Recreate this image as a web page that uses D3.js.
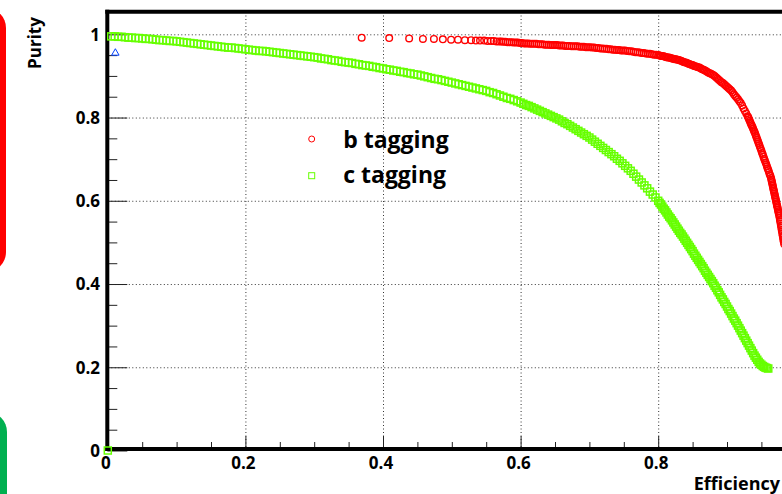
<!DOCTYPE html>
<meta charset="utf-8">
<head>
  <title>Efficiency vs Purity</title>
</head>
<style>
    body {
        margin: 0;
        background-color: #fff;
    }

    #chart {
        display: block;
        font-family: "Open Sans", sans-serif;
    }

    .grid line {
        stroke: #333;
        stroke-width: 1px;
        stroke-dasharray: 1 2.5;
    }

    .ticks line {
        stroke: #222;
        stroke-width: 1px;
    }

    .ticks path, .grid path, .labels path {
        display: none;
    }

    .labels text {
        font-family: "Open Sans", sans-serif;
        font-size: 17px;
        font-weight: 700;
        fill: #000;
    }
</style>
<body>
    <svg id="chart" width="782" height="494"></svg>

    <script src="https://d3js.org/d3.v7.min.js"></script>

    <script>
        var xTicks = [0, 0.2, 0.4, 0.6, 0.8, 1];
        var yTicks = [0, 0.2, 0.4, 0.6, 0.8, 1];
        var xTickLabels = ["0", "0.2", "0.4", "0.6", "0.8"];
        var yTickLabels = ["0", "0.2", "0.4", "0.6", "0.8", "1"];
        var minorTicks = [0.05, 0.1, 0.15, 0.25, 0.3, 0.35, 0.45, 0.5, 0.55, 0.65, 0.7, 0.75, 0.85, 0.9, 0.95];
        var legendLabels = ["b tagging", "c tagging"];

        // efficiency, purity
        var bTag = [
            [0.369,0.992],[0.409,0.991],[0.438,0.990],[0.458,0.989],[0.474,0.989],[0.487,0.988],[0.499,0.987],[0.509,0.987],
            [0.519,0.986],[0.528,0.986],[0.535,0.985],[0.541,0.985],[0.547,0.985],[0.552,0.984],[0.557,0.984],[0.561,0.984],
            [0.565,0.983],[0.569,0.983],[0.572,0.983],[0.575,0.982],[0.578,0.982],[0.581,0.981],[0.584,0.981],[0.587,0.981],
            [0.590,0.980],[0.593,0.980],[0.596,0.980],[0.599,0.979],[0.602,0.979],[0.605,0.978],[0.608,0.978],[0.611,0.978],
            [0.614,0.977],[0.617,0.977],[0.620,0.977],[0.623,0.977],[0.626,0.976],[0.629,0.976],[0.632,0.976],[0.635,0.975],
            [0.638,0.975],[0.641,0.975],[0.644,0.974],[0.647,0.974],[0.650,0.974],[0.653,0.974],[0.656,0.973],[0.659,0.973],
            [0.662,0.973],[0.665,0.972],[0.668,0.972],[0.671,0.972],[0.674,0.971],[0.677,0.971],[0.680,0.971],[0.683,0.971],
            [0.686,0.970],[0.689,0.970],[0.692,0.970],[0.695,0.969],[0.698,0.969],[0.701,0.969],[0.704,0.968],[0.707,0.968],
            [0.710,0.967],[0.713,0.967],[0.716,0.966],[0.719,0.966],[0.722,0.965],[0.725,0.965],[0.728,0.964],[0.731,0.964],
            [0.734,0.963],[0.737,0.963],[0.740,0.962],[0.743,0.962],[0.746,0.961],[0.749,0.961],[0.752,0.961],[0.755,0.960],
            [0.758,0.959],[0.761,0.959],[0.764,0.958],[0.767,0.957],[0.770,0.957],[0.773,0.956],[0.776,0.955],[0.779,0.955],
            [0.782,0.954],[0.785,0.953],[0.788,0.953],[0.791,0.952],[0.794,0.951],[0.797,0.951],[0.800,0.950],
            [0.802,0.949],[0.804,0.948],[0.806,0.948],[0.808,0.947],[0.810,0.946],[0.812,0.945],[0.814,0.944],[0.816,0.944],
            [0.818,0.943],[0.820,0.942],[0.822,0.941],[0.824,0.940],[0.826,0.940],[0.828,0.939],[0.830,0.938],[0.832,0.937],
            [0.834,0.936],[0.836,0.934],[0.838,0.933],[0.840,0.932],[0.842,0.931],[0.844,0.929],[0.846,0.928],[0.848,0.927],
            [0.850,0.926],[0.852,0.924],[0.854,0.923],[0.856,0.922],[0.858,0.921],[0.860,0.920],[0.862,0.918],[0.864,0.916],
            [0.866,0.915],[0.868,0.913],[0.870,0.911],[0.872,0.909],[0.874,0.907],[0.876,0.906],[0.878,0.904],[0.880,0.902],
            [0.882,0.900],[0.884,0.897],[0.886,0.894],[0.888,0.891],[0.890,0.888],[0.892,0.885],[0.894,0.883],[0.896,0.880],
            [0.898,0.877],[0.900,0.874],[0.902,0.871],[0.904,0.868],[0.906,0.865],[0.908,0.861],[0.910,0.856],[0.912,0.852],
            [0.914,0.848],[0.916,0.844],[0.918,0.839],[0.920,0.835],[0.922,0.829],[0.924,0.822],[0.926,0.816],[0.928,0.810],
            [0.930,0.803],[0.931,0.800],[0.932,0.796],[0.933,0.792],[0.934,0.788],[0.935,0.784],[0.936,0.781],[0.937,0.777],
            [0.938,0.773],[0.939,0.769],[0.940,0.765],[0.941,0.761],[0.942,0.756],[0.943,0.752],[0.944,0.747],[0.945,0.743],
            [0.946,0.738],[0.947,0.734],[0.948,0.729],[0.949,0.725],[0.950,0.720],[0.951,0.715],[0.952,0.711],[0.953,0.706],
            [0.954,0.701],[0.955,0.697],[0.956,0.692],[0.957,0.688],[0.958,0.683],[0.959,0.678],[0.960,0.674],[0.961,0.669],
            [0.962,0.664],[0.963,0.660],[0.964,0.655],[0.9645,0.651],[0.965,0.647],[0.9655,0.644],[0.966,0.640],[0.9665,0.636],
            [0.967,0.632],[0.9675,0.628],[0.968,0.625],[0.9685,0.621],[0.969,0.617],[0.9695,0.613],[0.970,0.609],[0.9705,0.606],
            [0.971,0.602],[0.9715,0.598],[0.972,0.594],[0.9725,0.590],[0.973,0.587],[0.9735,0.583],[0.974,0.579],[0.9745,0.575],
            [0.975,0.571],[0.9755,0.568],[0.976,0.564],[0.9765,0.559],[0.977,0.554],[0.9775,0.550],[0.978,0.545],[0.9785,0.540],
            [0.979,0.535],[0.9795,0.530],[0.980,0.526],[0.9805,0.521],[0.981,0.516],[0.9815,0.511],[0.982,0.506],[0.9825,0.501],
            [0.983,0.496]
        ];

        var cTag = [
            [0,0],
            [0.005,0.995],[0.010,0.995],[0.015,0.994],[0.020,0.994],[0.025,0.993],[0.030,0.992],[0.035,0.992],[0.040,0.991],
            [0.045,0.991],[0.050,0.990],[0.055,0.989],[0.060,0.989],[0.065,0.988],[0.070,0.987],[0.075,0.986],[0.080,0.986],
            [0.085,0.985],[0.090,0.984],[0.095,0.984],[0.100,0.983],[0.105,0.982],[0.110,0.981],[0.115,0.980],[0.120,0.979],
            [0.125,0.978],[0.130,0.977],[0.135,0.976],[0.140,0.975],[0.145,0.974],[0.150,0.973],[0.155,0.972],[0.160,0.971],
            [0.165,0.970],[0.170,0.969],[0.175,0.968],[0.180,0.968],[0.185,0.967],[0.190,0.966],[0.195,0.965],[0.200,0.964],
            [0.205,0.963],[0.210,0.962],[0.215,0.961],[0.220,0.960],[0.225,0.960],[0.230,0.959],[0.235,0.958],[0.240,0.957],
            [0.245,0.956],[0.250,0.955],[0.255,0.954],[0.260,0.953],[0.265,0.952],[0.270,0.951],[0.275,0.950],[0.280,0.949],
            [0.285,0.948],[0.290,0.947],[0.295,0.946],[0.300,0.945],[0.305,0.944],[0.310,0.942],[0.315,0.941],[0.320,0.940],
            [0.325,0.938],[0.330,0.937],[0.335,0.936],[0.340,0.934],[0.345,0.933],[0.350,0.932],[0.355,0.931],[0.360,0.929],
            [0.365,0.928],[0.370,0.926],[0.375,0.925],[0.380,0.924],[0.385,0.922],[0.390,0.921],[0.395,0.919],[0.400,0.918],
            [0.405,0.916],[0.410,0.915],[0.415,0.913],[0.420,0.912],[0.425,0.910],[0.430,0.909],[0.435,0.907],[0.440,0.906],
            [0.445,0.904],[0.450,0.903],[0.455,0.901],[0.460,0.899],[0.465,0.897],[0.470,0.895],[0.475,0.893],[0.480,0.892],
            [0.485,0.890],[0.490,0.888],[0.495,0.886],[0.500,0.884],[0.505,0.882],[0.510,0.880],[0.515,0.878],[0.520,0.876],
            [0.525,0.874],[0.530,0.872],[0.535,0.870],[0.540,0.868],[0.545,0.866],[0.550,0.864],[0.555,0.861],[0.560,0.859],
            [0.565,0.856],[0.570,0.853],[0.575,0.850],[0.580,0.847],[0.585,0.845],[0.590,0.842],[0.595,0.839],[0.600,0.836],
            [0.604,0.833],[0.608,0.830],[0.612,0.828],[0.616,0.825],[0.620,0.822],[0.624,0.819],[0.628,0.816],[0.632,0.813],
            [0.636,0.810],[0.640,0.807],[0.644,0.804],[0.648,0.801],[0.652,0.798],[0.656,0.795],[0.660,0.791],[0.664,0.787],
            [0.668,0.784],[0.672,0.780],[0.676,0.776],[0.680,0.772],[0.684,0.768],[0.688,0.764],[0.692,0.760],[0.696,0.756],
            [0.700,0.752],[0.704,0.747],[0.708,0.742],[0.712,0.737],[0.716,0.732],[0.720,0.727],[0.724,0.722],[0.728,0.717],
            [0.732,0.712],[0.736,0.707],[0.740,0.701],[0.744,0.696],[0.748,0.690],[0.752,0.684],[0.756,0.678],[0.760,0.672],
            [0.764,0.665],[0.768,0.658],[0.772,0.651],[0.776,0.644],[0.780,0.637],[0.784,0.630],[0.788,0.622],[0.792,0.615],
            [0.796,0.608],[0.800,0.600],[0.802,0.595],[0.804,0.591],[0.806,0.586],[0.808,0.581],[0.810,0.577],[0.812,0.572],
            [0.814,0.567],[0.816,0.562],[0.818,0.558],[0.820,0.553],[0.822,0.548],[0.824,0.543],[0.826,0.538],[0.828,0.533],
            [0.830,0.528],[0.832,0.523],[0.834,0.519],[0.836,0.514],[0.838,0.509],[0.840,0.504],[0.842,0.499],[0.844,0.494],
            [0.846,0.489],[0.848,0.484],[0.850,0.479],[0.852,0.473],[0.854,0.468],[0.856,0.463],[0.858,0.458],[0.860,0.453],
            [0.862,0.448],[0.864,0.443],[0.866,0.438],[0.868,0.432],[0.870,0.427],[0.872,0.422],[0.874,0.417],[0.876,0.412],
            [0.878,0.407],[0.880,0.402],[0.882,0.396],[0.884,0.391],[0.886,0.385],[0.888,0.380],[0.890,0.374],[0.892,0.368],
            [0.894,0.363],[0.896,0.357],[0.898,0.352],[0.900,0.346],[0.902,0.340],[0.904,0.335],[0.906,0.329],[0.908,0.323],
            [0.910,0.317],[0.912,0.312],[0.914,0.306],[0.916,0.300],[0.918,0.294],[0.920,0.288],[0.922,0.282],[0.924,0.276],
            [0.926,0.270],[0.928,0.264],[0.930,0.258],[0.932,0.252],[0.934,0.246],[0.936,0.240],[0.938,0.234],[0.940,0.228],
            [0.942,0.223],[0.944,0.218],[0.946,0.213],[0.948,0.209],[0.950,0.206],[0.952,0.203],[0.954,0.201],[0.956,0.199],
            [0.958,0.198],[0.960,0.197]
        ];

        var lightTag = [[0.011, 0.955]];

        var svg = d3.select("#chart");

        var x = d3.scaleLinear().domain([0, 1]).range([107.8, 795.8]);
        var y = d3.scaleLinear().domain([0, 1]).range([450.5, 34.3]);
        var yTop = y(1.054);

        // side tabs
        svg.append("rect")
            .attr("x", -40).attr("y", 8)
            .attr("width", 46).attr("height", 264)
            .attr("rx", 20)
            .attr("fill", "#ff0000");

        svg.append("rect")
            .attr("x", -40).attr("y", 412)
            .attr("width", 47).attr("height", 120)
            .attr("rx", 20)
            .attr("fill", "#00b050");

        // grid
        svg.append("g")
            .attr("class", "grid")
            .attr("transform", "translate(0," + y(0) + ")")
            .call(d3.axisBottom(x).tickValues(xTicks.slice(1)).tickSize(-(y(0) - yTop)).tickFormat(""));

        svg.append("g")
            .attr("class", "grid")
            .attr("transform", "translate(" + x(0) + ",0)")
            .call(d3.axisRight(y).tickValues(yTicks.slice(1)).tickSize(x(1) - x(0)).tickFormat(""));

        // ticks
        svg.append("g")
            .attr("class", "ticks")
            .attr("transform", "translate(0," + (y(0) - 1.5) + ")")
            .call(d3.axisTop(x).tickValues(minorTicks).tickSize(7).tickFormat(""));

        svg.append("g")
            .attr("class", "ticks")
            .attr("transform", "translate(0," + (y(0) - 1.5) + ")")
            .call(d3.axisTop(x).tickValues(xTicks).tickSize(13).tickFormat(""));

        svg.append("g")
            .attr("class", "ticks")
            .attr("transform", "translate(" + (x(0) - 0.5) + ",0)")
            .call(d3.axisRight(y).tickValues(minorTicks).tickSize(10).tickFormat(""));

        svg.append("g")
            .attr("class", "ticks")
            .attr("transform", "translate(" + (x(0) - 0.5) + ",0)")
            .call(d3.axisRight(y).tickValues(yTicks).tickSize(20).tickFormat(""));

        // tick labels
        var xl = svg.append("g")
            .attr("class", "labels")
            .attr("transform", "translate(-2.5," + y(0) + ")")
            .call(d3.axisBottom(x).tickValues(xTicks.slice(0, xTickLabels.length)).tickSize(0).tickPadding(0)
                .tickFormat(function(d, i) { return xTickLabels[i]; }));
        xl.selectAll("text").attr("dy", null).attr("y", 18.5);

        var yl = svg.append("g")
            .attr("class", "labels")
            .attr("transform", "translate(100,0)")
            .call(d3.axisLeft(y).tickValues(yTicks).tickSize(0).tickPadding(0)
                .tickFormat(function(d, i) { return yTickLabels[i]; }));
        yl.selectAll("text").attr("dy", null).attr("y", 5.8);

        // frame
        var frame = svg.append("g")
            .attr("stroke", "#000")
            .attr("stroke-width", 4);

        frame.append("line")
            .attr("x1", x(0) - 0.5).attr("x2", x(0) - 0.5)
            .attr("y1", yTop - 2).attr("y2", y(0) + 0.5);
        frame.append("line")
            .attr("x1", x(0) - 2.5).attr("x2", x(1))
            .attr("y1", y(0) - 1.5).attr("y2", y(0) - 1.5);
        frame.append("line")
            .attr("x1", x(0) - 2.5).attr("x2", x(1))
            .attr("y1", yTop).attr("y2", yTop);

        // markers
        svg.append("g")
            .selectAll("rect")
            .data(cTag)
            .enter()
            .append("rect")
            .attr("x", function(d) { return x(d[0]) - 3.5; })
            .attr("y", function(d) { return y(d[1]) - 3.5; })
            .attr("width", 7)
            .attr("height", 7)
            .attr("fill", "none")
            .attr("stroke", "#66ff00")
            .attr("stroke-width", 1.5);

        svg.append("g")
            .selectAll("circle")
            .data(bTag)
            .enter()
            .append("circle")
            .attr("cx", function(d) { return x(d[0]); })
            .attr("cy", function(d) { return y(d[1]); })
            .attr("r", 3.3)
            .attr("fill", "none")
            .attr("stroke", "#ff0000")
            .attr("stroke-width", 1.4);

        svg.append("g")
            .selectAll("path")
            .data(lightTag)
            .enter()
            .append("path")
            .attr("d", d3.symbol().type(d3.symbolTriangle).size(24))
            .attr("transform", function(d) { return "translate(" + x(d[0]) + "," + y(d[1]) + ")"; })
            .attr("fill", "none")
            .attr("stroke", "#0040ff")
            .attr("stroke-width", 1);

        // legend
        var legend = svg.append("g").attr("transform", "translate(311.7,139)");

        legend.append("circle")
            .attr("r", 3)
            .attr("fill", "none")
            .attr("stroke", "#ff0000");

        legend.append("rect")
            .attr("x", -3).attr("y", 33.7)
            .attr("width", 6).attr("height", 6)
            .attr("fill", "none")
            .attr("stroke", "#66ff00");

        legend.selectAll("text")
            .data(legendLabels)
            .enter()
            .append("text")
            .attr("x", 31.5)
            .attr("y", function(d, i) { return 9.3 + i * 35; })
            .style("font-size", "23px")
            .style("font-weight", 700)
            .text(function(d) { return d; });

        // axis titles
        svg.append("text")
            .attr("transform", "translate(41,43) rotate(-90)")
            .attr("text-anchor", "middle")
            .style("font-size", "17px")
            .style("font-weight", 700)
            .text("Purity");

        svg.append("text")
            .attr("x", 780)
            .attr("y", 490)
            .attr("text-anchor", "end")
            .style("font-size", "18px")
            .style("font-weight", 700)
            .text("Efficiency");
    </script>
</body>
